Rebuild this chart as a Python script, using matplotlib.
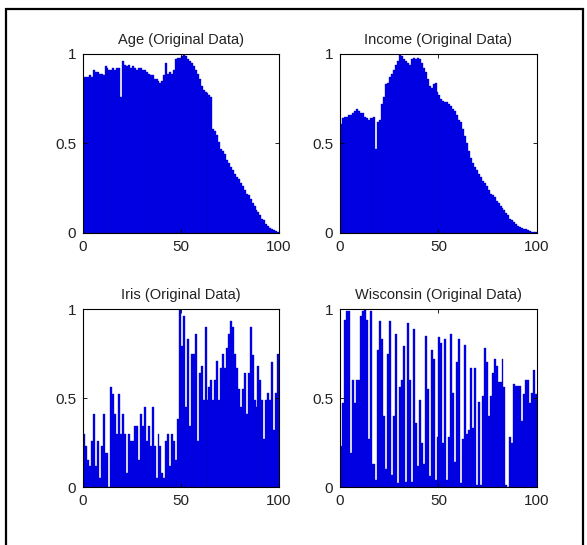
import numpy as np
import matplotlib
matplotlib.use('Agg')
import matplotlib.pyplot as plt
from matplotlib.patches import Rectangle

plt.rcParams['font.family'] = ['Liberation Sans Narrow', 'Liberation Sans', 'DejaVu Sans']

# bin index (left edge of each bar)
bins = np.arange(100)

titles = ['Age (Original Data)', 'Income (Original Data)',
          'Iris (Original Data)', 'Wisconsin (Original Data)']

age = [0.87, 0.87, 0.87, 0.88, 0.87, 0.91, 0.90, 0.90, 0.89, 0.89,
       0.88, 0.93, 0.92, 0.91, 0.91, 0.92, 0.91, 0.92, 0.92, 0.76,
       0.96, 0.94, 0.93, 0.94, 0.92, 0.93, 0.92, 0.91, 0.92, 0.92,
       0.91, 0.91, 0.90, 0.89, 0.88, 0.88, 0.86, 0.86, 0.85, 0.84,
       0.85, 0.88, 0.95, 0.89, 0.90, 0.89, 0.91, 0.97, 0.98, 0.98,
       0.99, 1.00, 0.99, 0.97, 0.96, 0.95, 0.93, 0.91, 0.89, 0.86,
       0.82, 0.80, 0.79, 0.78, 0.77, 0.76, 0.58, 0.57, 0.55, 0.51,
       0.47, 0.46, 0.44, 0.41, 0.39, 0.37, 0.35, 0.33, 0.31, 0.30,
       0.28, 0.26, 0.24, 0.22, 0.21, 0.19, 0.17, 0.15, 0.13, 0.12,
       0.10, 0.08, 0.07, 0.05, 0.04, 0.03, 0.025, 0.015, 0.01, 0.005]

income = [0.61, 0.64, 0.65, 0.65, 0.66, 0.66, 0.67, 0.68, 0.69, 0.68,
          0.67, 0.67, 0.65, 0.64, 0.63, 0.64, 0.64, 0.65, 0.47, 0.62,
          0.63, 0.72, 0.76, 0.83, 0.84, 0.87, 0.89, 0.91, 0.94, 0.96,
          1.00, 0.99, 0.97, 0.96, 0.95, 0.94, 0.97, 0.98, 0.97, 0.98,
          0.97, 0.95, 0.92, 0.90, 0.86, 0.82, 0.81, 0.83, 0.84, 0.79,
          0.77, 0.75, 0.74, 0.73, 0.73, 0.72, 0.71, 0.69, 0.68, 0.66,
          0.63, 0.62, 0.58, 0.54, 0.50, 0.46, 0.42, 0.39, 0.37, 0.35,
          0.33, 0.31, 0.29, 0.28, 0.26, 0.24, 0.22, 0.21, 0.20, 0.18,
          0.17, 0.15, 0.14, 0.13, 0.11, 0.10, 0.08, 0.07, 0.06, 0.05,
          0.04, 0.035, 0.03, 0.025, 0.02, 0.015, 0.01, 0.008, 0.005, 0.003]

iris = [0.30, 0.23, 0.15, 0.12, 0.26, 0.41, 0.12, 0.26, 0.05, 0.23,
        0.41, 0.19, 0.19, 0.00, 0.56, 0.52, 0.41, 0.30, 0.52, 0.30,
        0.41, 0.30, 0.08, 0.30, 0.26, 0.26, 0.34, 0.34, 0.15, 0.41,
        0.34, 0.45, 0.26, 0.34, 0.23, 0.45, 0.23, 0.05, 0.30, 0.23,
        0.08, 0.05, 0.26, 0.30, 0.12, 0.30, 0.26, 0.15, 0.38, 1.00,
        0.79, 0.96, 0.45, 0.83, 0.34, 0.75, 0.75, 0.86, 0.26, 0.64,
        0.68, 0.49, 0.90, 0.49, 0.56, 0.60, 0.49, 0.60, 0.71, 0.49,
        0.67, 0.75, 0.67, 0.78, 0.86, 0.93, 0.90, 0.75, 0.67, 0.55,
        0.45, 0.55, 0.64, 0.41, 0.64, 0.90, 0.74, 0.49, 0.45, 0.68,
        0.60, 0.49, 0.27, 0.49, 0.53, 0.49, 0.70, 0.32, 0.53, 0.75]

wisconsin = [0.23, 0.47, 0.94, 0.99, 0.99, 0.19, 0.60, 0.47, 0.60, 0.60,
             0.96, 0.99, 1.00, 0.94, 0.27, 0.99, 0.13, 0.13, 0.04, 0.77,
             0.93, 0.83, 0.40, 0.10, 0.75, 0.93, 0.07, 0.40, 0.86, 0.02,
             0.56, 0.60, 0.79, 0.03, 0.92, 0.60, 0.03, 0.89, 0.36, 0.12,
             0.49, 0.25, 0.13, 0.85, 0.55, 0.06, 0.77, 0.72, 0.04, 0.28,
             0.84, 0.81, 0.25, 0.83, 0.04, 0.28, 0.86, 0.53, 0.14, 0.70,
             0.83, 0.02, 0.27, 0.80, 0.30, 0.32, 0.67, 0.33, 0.67, 0.01,
             0.48, 0.01, 0.51, 0.78, 0.70, 0.40, 0.51, 0.64, 0.72, 0.68,
             0.59, 0.59, 0.72, 0.56, 0.01, 0.00, 0.28, 0.25, 0.58, 0.57,
             0.57, 0.57, 0.37, 0.52, 0.60, 0.60, 0.47, 0.53, 0.66, 0.52]

series = [age, income, iris, wisconsin]

fig = plt.figure(figsize=(5.87, 5.45), dpi=100)

# axes boxes (left, bottom, width, height) in figure fraction
boxes = [[0.1414, 0.5725, 0.334, 0.3285],
         [0.5792, 0.5725, 0.3356, 0.3285],
         [0.1414, 0.1064, 0.334, 0.3266],
         [0.5792, 0.1064, 0.3356, 0.3266]]

for box, vals, title in zip(boxes, series, titles):
    ax = fig.add_axes(box)
    ax.bar(bins, vals, width=1.0, align='edge', color='#0000f5',
           edgecolor='#0000a8', linewidth=0.25)
    ax.set_xlim(0, 100)
    ax.set_ylim(0, 1)
    ax.set_xticks([0, 50, 100])
    ax.set_xticklabels(['0', '50', '100'])
    ax.set_yticks([0, 0.5, 1])
    ax.set_yticklabels(['0', '0.5', '1'])
    ax.tick_params(direction='in', length=3, width=0.6, top=True, right=True,
                   labelsize=11, pad=5, labelcolor='#222222')
    for s in ax.spines.values():
        s.set_linewidth(0.8)
    ax.set_title(title, fontsize=10.5, pad=7, color='#222222')

# outer frame of the figure window
frame = Rectangle((5.5 / 587, -0.05), 577.5 / 587, 1.05 - 8.5 / 545,
                  transform=fig.transFigure, fill=False, edgecolor='black',
                  linewidth=1.6)
fig.patches.append(frame)

fig.savefig('out.png', dpi=100)
